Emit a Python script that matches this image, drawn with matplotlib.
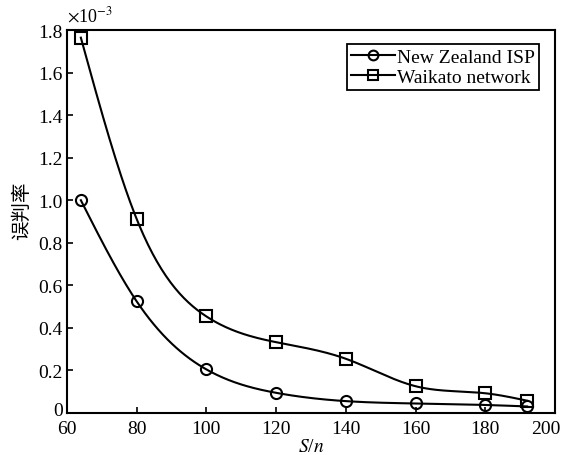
import numpy as np
import matplotlib
matplotlib.use("Agg")
import matplotlib.pyplot as plt
from matplotlib.transforms import ScaledTranslation

# S/n values and misjudgement rates (x 1e-3)
sn = [64, 80, 100, 120, 140, 160, 180, 192]
nz_isp = [1.0, 0.525, 0.205, 0.095, 0.056, 0.045, 0.038, 0.031]
waikato = [1.764, 0.912, 0.454, 0.333, 0.255, 0.126, 0.093, 0.058]

x_ticks = [60, 80, 100, 120, 140, 160, 180, 200]
y_ticks = [0, 0.2, 0.4, 0.6, 0.8, 1.0, 1.2, 1.4, 1.6, 1.8]
y_tick_labels = ["0", "0.2", "0.4", "0.6", "0.8", "1.0", "1.2", "1.4", "1.6", "1.8"]


def natural_spline(x, y, num=300):
    # natural cubic spline through the measured points, for a smooth line
    x = np.asarray(x, float)
    y = np.asarray(y, float)
    n = len(x)
    h = np.diff(x)
    A = np.zeros((n, n))
    b = np.zeros(n)
    A[0, 0] = A[-1, -1] = 1
    for i in range(1, n - 1):
        A[i, i - 1] = h[i - 1]
        A[i, i] = 2 * (h[i - 1] + h[i])
        A[i, i + 1] = h[i]
        b[i] = 3 * ((y[i + 1] - y[i]) / h[i] - (y[i] - y[i - 1]) / h[i - 1])
    c = np.linalg.solve(A, b)
    xs = np.linspace(x[0], x[-1], num)
    idx = np.clip(np.searchsorted(x, xs) - 1, 0, n - 2)
    dx = xs - x[idx]
    bb = (y[idx + 1] - y[idx]) / h[idx] - h[idx] * (2 * c[idx] + c[idx + 1]) / 3
    dd = (c[idx + 1] - c[idx]) / (3 * h[idx])
    ys = y[idx] + bb * dx + c[idx] * dx ** 2 + dd * dx ** 3
    return xs, ys


plt.rcParams['font.family'] = ['Liberation Serif', 'Noto Sans CJK SC']
plt.rcParams['mathtext.fontset'] = 'stix'

fig = plt.figure(figsize=(5.67, 4.56), dpi=100)
ax = fig.add_axes([0.118, 0.092, 0.861, 0.840])

for vals, marker in [(nz_isp, 'o'), (waikato, 's')]:
    xs, ys = natural_spline(sn, vals)
    ax.plot(xs, ys, color='black', lw=1.5)
    ax.plot(sn, vals, linestyle='none', marker=marker, ms=8, mfc='none',
            mec='black', mew=1.5)

handles = [plt.Line2D([], [], color='black', lw=1.5, marker=m, ms=7, mfc='none', mew=1.5)
           for m in ['o', 's']]
leg = ax.legend(handles, ['New Zealand ISP', 'Waikato network'], loc='upper right',
                fontsize=14, handlelength=2.3, handletextpad=0.1, borderpad=0.2,
                labelspacing=0.15, fancybox=False, framealpha=1,
                bbox_to_anchor=(0.967, 0.963), borderaxespad=0)
leg.get_frame().set_edgecolor('black')
leg.get_frame().set_linewidth(1.3)

ax.set_xlim(60, 200)
ax.set_ylim(0, 1.8)
ax.set_xticks(x_ticks)
ax.set_yticks(y_ticks)
ax.set_yticklabels(y_tick_labels)
ax.tick_params(direction='in', length=4, width=1.2, labelsize=14,
               top=False, right=False)
ax.tick_params(axis='x', pad=5)
ax.tick_params(axis='y', pad=3)
for s in ax.spines.values():
    s.set_linewidth(1.5)

# lift the "0" label clear of the x labels, pull "200" inside the figure
zero = ax.get_yticklabels()[0]
zero.set_transform(zero.get_transform() + ScaledTranslation(0, 3 / 72, fig.dpi_scale_trans))
last = ax.get_xticklabels()[-1]
last.set_transform(last.get_transform() + ScaledTranslation(-7 / 72, 0, fig.dpi_scale_trans))

ax.set_xlabel('$S$/$n$', fontsize=14, labelpad=1)
ax.set_ylabel('误判率', fontsize=14, family=['Noto Sans CJK SC'], labelpad=2)
ax.yaxis.set_label_coords(-0.072, 0.53)
ax.text(0.0, 1.012, r'$\times$10$^{-3}$', transform=ax.transAxes, fontsize=13,
        ha='left', va='bottom')

fig.savefig('out.png', dpi=100)
